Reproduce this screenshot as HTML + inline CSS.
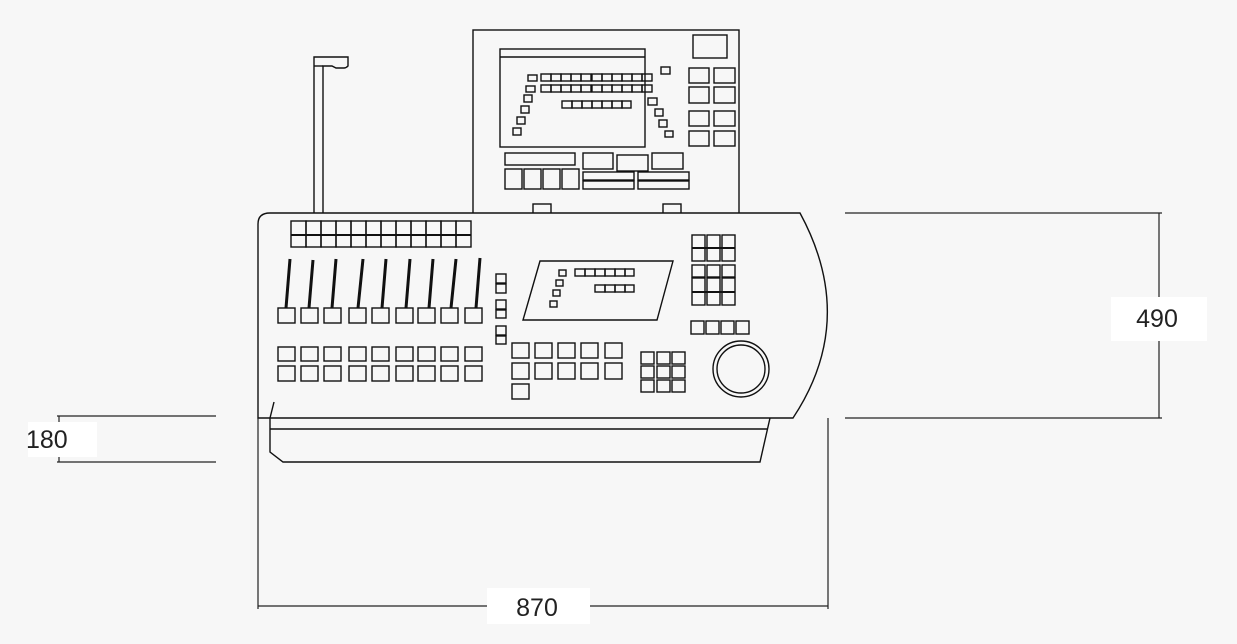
<!DOCTYPE html>
<html><head><meta charset="utf-8"><style>
html,body{margin:0;padding:0;background:#f7f7f7;}
svg{display:block}
text{font-family:"Liberation Sans",sans-serif;fill:#222}
</style></head><body>
<svg width="1237" height="644" viewBox="0 0 1237 644" xmlns="http://www.w3.org/2000/svg">
<rect width="1237" height="644" fill="#f7f7f7"/>
<g fill="none" stroke="#111" stroke-width="1.4">
<rect x="473" y="30" width="266" height="184"/>
<rect x="500" y="49" width="145" height="98"/>
<line x1="500" y1="57" x2="645" y2="57"/>
<rect x="693" y="35" width="34" height="23"/>
<rect x="689" y="68" width="20" height="15"/><rect x="714" y="68" width="21" height="15"/>
<rect x="689" y="87" width="20" height="16"/><rect x="714" y="87" width="21" height="16"/>
<rect x="689" y="111" width="20" height="15"/><rect x="714" y="111" width="21" height="15"/>
<rect x="689" y="131" width="20" height="15"/><rect x="714" y="131" width="21" height="15"/>
<rect x="528" y="75" width="9" height="6"/><rect x="526" y="86" width="9" height="6"/>
<g>
<rect x="541" y="74" width="10" height="7"/><rect x="551" y="74" width="10" height="7"/><rect x="561" y="74" width="10" height="7"/><rect x="571" y="74" width="10" height="7"/><rect x="581" y="74" width="10" height="7"/><rect x="592" y="74" width="10" height="7"/><rect x="602" y="74" width="10" height="7"/><rect x="612" y="74" width="10" height="7"/><rect x="622" y="74" width="10" height="7"/><rect x="632" y="74" width="10" height="7"/><rect x="642" y="74" width="10" height="7"/>
<rect x="541" y="85" width="10" height="7"/><rect x="551" y="85" width="10" height="7"/><rect x="561" y="85" width="10" height="7"/><rect x="571" y="85" width="10" height="7"/><rect x="581" y="85" width="10" height="7"/><rect x="592" y="85" width="10" height="7"/><rect x="602" y="85" width="10" height="7"/><rect x="612" y="85" width="10" height="7"/><rect x="622" y="85" width="10" height="7"/><rect x="632" y="85" width="10" height="7"/><rect x="642" y="85" width="10" height="7"/>
<rect x="562" y="101" width="10" height="7"/><rect x="572" y="101" width="10" height="7"/><rect x="582" y="101" width="10" height="7"/><rect x="592" y="101" width="10" height="7"/><rect x="602" y="101" width="10" height="7"/><rect x="612" y="101" width="10" height="7"/><rect x="622" y="101" width="9" height="7"/>
</g>
<rect x="524" y="95" width="8" height="7"/><rect x="521" y="106" width="8" height="7"/><rect x="517" y="117" width="8" height="7"/><rect x="513" y="128" width="8" height="7"/>
<rect x="648" y="98" width="9" height="7"/><rect x="655" y="109" width="8" height="7"/><rect x="659" y="120" width="8" height="7"/><rect x="665" y="131" width="8" height="6"/>
<rect x="661" y="67" width="9" height="7"/>
<rect x="505" y="153" width="70" height="12"/>
<rect x="583" y="153" width="30" height="16"/><rect x="617" y="155" width="31" height="16"/><rect x="652" y="153" width="31" height="16"/>
<rect x="505" y="169" width="17" height="20"/><rect x="524" y="169" width="17" height="20"/><rect x="543" y="169" width="17" height="20"/><rect x="562" y="169" width="17" height="20"/>
<rect x="583" y="172" width="51" height="8"/><rect x="583" y="181" width="51" height="8"/>
<rect x="638" y="172" width="51" height="8"/><rect x="638" y="181" width="51" height="8"/>
<rect x="533" y="204" width="18" height="10"/><rect x="663" y="204" width="18" height="10"/>
<path d="M314,213 V57 H348 V66 Q346,68 344,68 L336,68 L332,66 L323,66 V213"/>
<line x1="314" y1="66" x2="323" y2="66"/>
<path d="M258,418 V224 Q258,213 270,213 H800 Q858,320 793,418 Z" fill="#f7f7f7"/>
<path d="M274,402 L270,418"/>
<path d="M270,418 V452 L283,462 H760 L770,418"/>
<line x1="270" y1="429" x2="767" y2="429"/>
<g>
<rect x="291" y="221" width="15" height="26"/><rect x="306" y="221" width="15" height="26"/><rect x="321" y="221" width="15" height="26"/><rect x="336" y="221" width="15" height="26"/><rect x="351" y="221" width="15" height="26"/><rect x="366" y="221" width="15" height="26"/><rect x="381" y="221" width="15" height="26"/><rect x="396" y="221" width="15" height="26"/><rect x="411" y="221" width="15" height="26"/><rect x="426" y="221" width="15" height="26"/><rect x="441" y="221" width="15" height="26"/><rect x="456" y="221" width="15" height="26"/>
</g>
<line x1="291" y1="235" x2="471" y2="235" stroke-width="2"/>
<g>
<rect x="278" y="308" width="17" height="15"/><rect x="301" y="308" width="17" height="15"/><rect x="324" y="308" width="17" height="15"/><rect x="349" y="308" width="17" height="15"/><rect x="372" y="308" width="17" height="15"/><rect x="396" y="308" width="17" height="15"/><rect x="418" y="308" width="17" height="15"/><rect x="441" y="308" width="17" height="15"/><rect x="465" y="308" width="17" height="15"/>
<rect x="278" y="347" width="17" height="14"/><rect x="301" y="347" width="17" height="14"/><rect x="324" y="347" width="17" height="14"/><rect x="349" y="347" width="17" height="14"/><rect x="372" y="347" width="17" height="14"/><rect x="396" y="347" width="17" height="14"/><rect x="418" y="347" width="17" height="14"/><rect x="441" y="347" width="17" height="14"/><rect x="465" y="347" width="17" height="14"/>
<rect x="278" y="366" width="17" height="15"/><rect x="301" y="366" width="17" height="15"/><rect x="324" y="366" width="17" height="15"/><rect x="349" y="366" width="17" height="15"/><rect x="372" y="366" width="17" height="15"/><rect x="396" y="366" width="17" height="15"/><rect x="418" y="366" width="17" height="15"/><rect x="441" y="366" width="17" height="15"/><rect x="465" y="366" width="17" height="15"/>
</g>
<g stroke-width="3">
<line x1="290" y1="259" x2="286" y2="308"/><line x1="313" y1="260" x2="309" y2="308"/><line x1="336" y1="259" x2="332" y2="308"/><line x1="363" y1="259" x2="358" y2="308"/><line x1="386" y1="259" x2="382" y2="308"/><line x1="410" y1="259" x2="406" y2="308"/><line x1="433" y1="259" x2="429" y2="308"/><line x1="456" y1="259" x2="451" y2="308"/><line x1="480" y1="258" x2="476" y2="308"/>
</g>
<rect x="496" y="274" width="10" height="9"/><rect x="496" y="284" width="10" height="9"/><rect x="496" y="300" width="10" height="9"/><rect x="496" y="310" width="10" height="8"/><rect x="496" y="326" width="10" height="9"/><rect x="496" y="336" width="10" height="8"/>
<rect x="512" y="343" width="17" height="15"/><rect x="535" y="343" width="17" height="15"/><rect x="558" y="343" width="17" height="15"/><rect x="581" y="343" width="17" height="15"/><rect x="605" y="343" width="17" height="15"/>
<rect x="512" y="363" width="17" height="16"/><rect x="535" y="363" width="17" height="16"/><rect x="558" y="363" width="17" height="16"/><rect x="581" y="363" width="17" height="16"/><rect x="605" y="363" width="17" height="16"/>
<rect x="512" y="384" width="17" height="15"/>
<path d="M540,261 H673 L657,320 H523 Z"/>
<rect x="559" y="270" width="7" height="6"/><rect x="556" y="280" width="7" height="6"/><rect x="553" y="290" width="7" height="6"/><rect x="550" y="301" width="7" height="6"/>
<rect x="575" y="269" width="10" height="7"/><rect x="585" y="269" width="10" height="7"/><rect x="595" y="269" width="10" height="7"/><rect x="605" y="269" width="10" height="7"/><rect x="615" y="269" width="10" height="7"/><rect x="625" y="269" width="9" height="7"/>
<rect x="595" y="285" width="10" height="7"/><rect x="605" y="285" width="10" height="7"/><rect x="615" y="285" width="10" height="7"/><rect x="625" y="285" width="9" height="7"/>
<rect x="692" y="235" width="13" height="26"/><rect x="707" y="235" width="13" height="26"/><rect x="722" y="235" width="13" height="26"/>
<line x1="692" y1="248" x2="735" y2="248" stroke-width="2"/>
<rect x="692" y="265" width="13" height="12"/><rect x="707" y="265" width="13" height="12"/><rect x="722" y="265" width="13" height="12"/>
<rect x="692" y="278" width="13" height="27"/><rect x="707" y="278" width="13" height="27"/><rect x="722" y="278" width="13" height="27"/>
<line x1="692" y1="292" x2="735" y2="292" stroke-width="2"/>
<rect x="691" y="321" width="13" height="13"/><rect x="706" y="321" width="13" height="13"/><rect x="721" y="321" width="13" height="13"/><rect x="736" y="321" width="13" height="13"/>
<rect x="641" y="352" width="13" height="12"/><rect x="657" y="352" width="13" height="12"/><rect x="672" y="352" width="13" height="12"/>
<rect x="641" y="366" width="13" height="12"/><rect x="657" y="366" width="13" height="12"/><rect x="672" y="366" width="13" height="12"/>
<rect x="641" y="380" width="13" height="12"/><rect x="657" y="380" width="13" height="12"/><rect x="672" y="380" width="13" height="12"/>
<circle cx="741" cy="369" r="28"/><circle cx="741" cy="369" r="24"/>
</g>
<g stroke="#222" stroke-width="1.2" fill="none">
<line x1="258" y1="418" x2="258" y2="609"/>
<line x1="828" y1="418" x2="828" y2="609"/>
<line x1="258" y1="606" x2="828" y2="606"/>
<line x1="845" y1="213" x2="1162" y2="213"/>
<line x1="845" y1="418" x2="1162" y2="418"/>
<line x1="1159" y1="213" x2="1159" y2="418"/>
<line x1="57" y1="416" x2="216" y2="416"/>
<line x1="57" y1="462" x2="216" y2="462"/>
<line x1="59" y1="416" x2="59" y2="462"/>
</g>
<rect x="487" y="588" width="103" height="36" fill="#fff"/>
<text x="537" y="616" font-size="25" text-anchor="middle">870</text>
<rect x="1111" y="297" width="96" height="44" fill="#fff"/>
<text x="1157" y="327" font-size="25" text-anchor="middle">490</text>
<rect x="28" y="422" width="69" height="35" fill="#fff"/>
<text x="26" y="448" font-size="25">180</text>
</svg>
</body></html>
